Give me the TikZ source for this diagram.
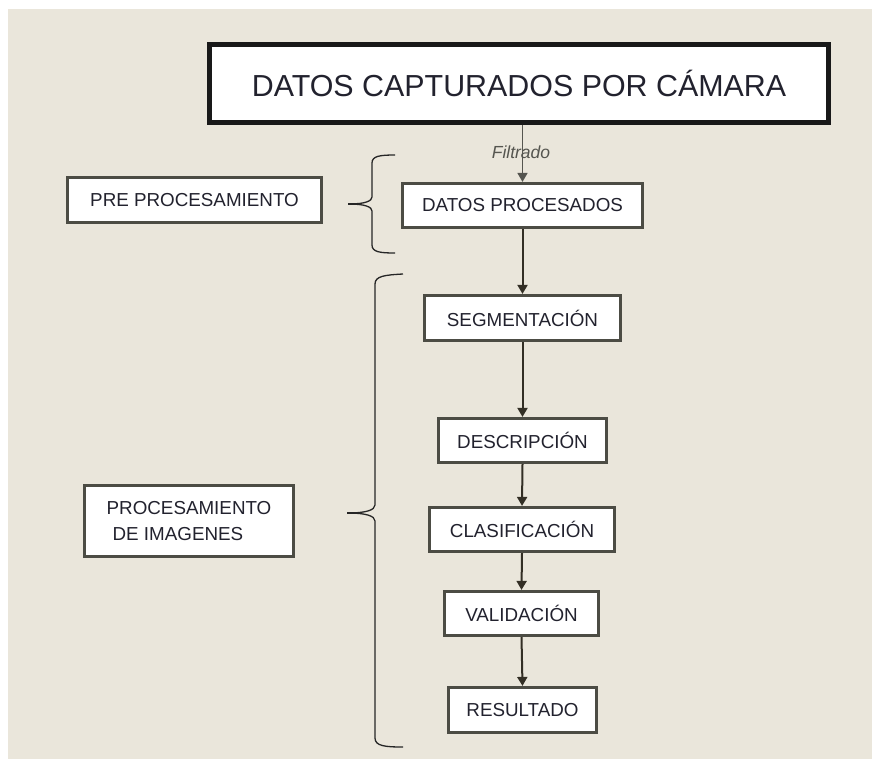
\documentclass[tikz,border=0pt]{standalone}
\usepackage{fontspec}
\setmainfont{Liberation Sans}
\usetikzlibrary{arrows.meta}
\definecolor{bg}{HTML}{EAE6DB}
\definecolor{txt}{HTML}{22222E}
\definecolor{bord}{HTML}{4C4C44}
\definecolor{ln}{HTML}{332F25}
\definecolor{flt}{HTML}{55554F}
\begin{document}
\begin{tikzpicture}[x=1pt,y=-1pt,
  box/.style={draw=bord, line width=3.2pt, fill=white, inner sep=0pt, text=txt,
              font=\fontsize{18.8}{26}\selectfont, align=center},
  arr/.style={draw=ln, line width=2pt, -{Triangle[width=10pt,length=9pt]}},
  bracepath/.style={draw=black!85, line width=1.3pt}]
\useasboundingbox (0,0) rectangle (872,758);
\fill[white] (-5,-5) rectangle (880,770);
\fill[bg] (8,9) rectangle (880,770);

\node[box, draw=black!90, line width=5pt, minimum width=619pt, minimum height=78pt,
      font=\fontsize{30.4}{36}\selectfont] (top) at (519,83.5) {DATOS CAPTURADOS POR CÁMARA};

\node[box, minimum width=254pt, minimum height=45pt] (pre) at (194.5,200) {PRE PROCESAMIENTO};
\node[box, minimum width=209pt, minimum height=71pt, align=left] (proc) at (189,521)
  {PROCESAMIENTO\\\hspace{6pt}DE IMAGENES};

\node[box, minimum width=240pt, minimum height=44pt] (dp) at (522.5,205.5) {DATOS PROCESADOS};
\node[box, minimum width=196pt, minimum height=45pt] (seg) at (522.5,318) {SEGMENTACIÓN};
\node[box, minimum width=168pt, minimum height=44pt] (desc) at (522.5,440.5) {DESCRIPCIÓN};
\node[box, minimum width=185pt, minimum height=44pt] (clas) at (522,529.5) {CLASIFICACIÓN};
\node[box, minimum width=154pt, minimum height=44pt] (val) at (521.5,613.5) {VALIDACIÓN};
\node[box, minimum width=148pt, minimum height=45pt] (res) at (522.5,710) {RESULTADO};

% Filtrado connector
\draw[draw=flt, line width=1.6pt, -{Triangle[width=10pt,length=9pt]}] (top.south -| dp.north) -- (dp.north);
\node[text=flt, font=\fontsize{17.5}{20}\selectfont\itshape] (filt) at (521,152) {Filtrado};

\draw[arr] (dp.south) -- (seg.north);
\draw[arr] (seg.south) -- (desc.north);
\draw[arr] (desc.south) -- (clas.north);
\draw[arr] (clas.south) -- (val.north);
\draw[arr] (val.south) -- (res.north);

% small brace
\draw[bracepath] (395,155) .. controls (380,155) and (372,156) .. (372,163)
  -- (372,197) .. controls (372,201) and (365,204) .. (349,204)
  .. controls (365,204) and (372,207) .. (372,211)
  -- (372,245) .. controls (372,252) and (380,253) .. (395,253);
\draw[black!85, line width=2.4pt] (348,204) -- (361,204);

% large brace
\draw[bracepath] (403,274) .. controls (385,275) and (375,276) .. (375,284)
  -- (375,505) .. controls (375,510) and (366,513) .. (348,513)
  .. controls (366,513) and (375,516) .. (375,521)
  -- (375,738) .. controls (375,746) and (385,747) .. (403,747);
\draw[black!85, line width=2.4pt] (347,513) -- (361,513);
\end{tikzpicture}
\end{document}
